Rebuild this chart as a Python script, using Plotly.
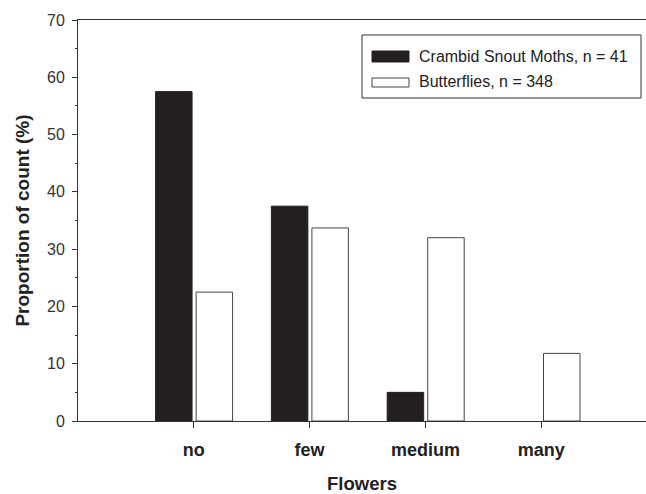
import plotly.graph_objects as go

categories = ["no", "few", "medium", "many"]
moths = [57.5, 37.5, 5.0, 0.0]
butterflies = [22.5, 33.7, 32.0, 11.8]
moth_label = "Crambid Snout Moths, n = 41"
butterfly_label = "Butterflies, n = 348"
y_ticks = [0, 10, 20, 30, 40, 50, 60, 70]

FONT = "Arial, Liberation Sans, Helvetica, sans-serif"
AX = "#333333"

fig = go.Figure()
fig.add_trace(go.Bar(x=categories, y=moths, name=moth_label,
                     marker=dict(color="#231f20",
                                 line=dict(color="#231f20", width=[1 if v > 0 else 0 for v in moths])),
                     width=0.315, offset=-0.33, showlegend=False))
fig.add_trace(go.Bar(x=categories, y=butterflies, name=butterfly_label,
                     marker=dict(color="white", line=dict(color="#444444", width=1)),
                     width=0.315, offset=0.02, showlegend=False))

# manual legend (paper coords = plot area)
def px_x(p):
    return (p - 78) / 568.0
def px_y(p):
    return (421 - p) / 401.0

shapes = [
    dict(type="rect", xref="paper", yref="paper", x0=px_x(362), x1=px_x(641),
         y0=px_y(98), y1=px_y(35), line=dict(color=AX, width=1), fillcolor="white"),
    dict(type="rect", xref="paper", yref="paper", x0=px_x(372), x1=px_x(409),
         y0=px_y(62), y1=px_y(51), line=dict(color="#231f20", width=1), fillcolor="#231f20"),
    dict(type="rect", xref="paper", yref="paper", x0=px_x(372), x1=px_x(409),
         y0=px_y(87), y1=px_y(78), line=dict(color="#444444", width=1), fillcolor="white"),
]
annotations = [
    dict(xref="paper", yref="paper", x=px_x(417), y=px_y(56.5), text=moth_label,
         showarrow=False, xanchor="left", yanchor="middle",
         font=dict(family=FONT, size=16, color="#222222")),
    dict(xref="paper", yref="paper", x=px_x(417), y=px_y(81.5), text=butterfly_label,
         showarrow=False, xanchor="left", yanchor="middle",
         font=dict(family=FONT, size=16, color="#222222")),
]

fig.update_layout(
    width=646, height=494,
    margin=dict(l=78, r=0, t=20, b=73),
    paper_bgcolor="white", plot_bgcolor="white",
    font=dict(family=FONT, color="#222222"),
    shapes=shapes, annotations=annotations,
    showlegend=False,
)
fig.update_xaxes(
    type="category", categoryorder="array", categoryarray=categories,
    range=[-1, 3.905],
    showline=True, linecolor=AX, linewidth=1, mirror=True,
    ticks="outside", ticklen=6, tickcolor=AX, tickwidth=1,
    ticklabelstandoff=6,
    showgrid=False, zeroline=False,
    tickfont=dict(family=FONT, size=18, color="#222222", weight="bold"),
    title=dict(text="<b>Flowers</b>", font=dict(family=FONT, size=18.5, color="#222222"), standoff=19),
)
fig.update_yaxes(
    range=[0, 70], tickvals=y_ticks,
    showline=True, linecolor=AX, linewidth=1, mirror=False,
    ticks="outside", ticklen=5, tickcolor=AX, tickwidth=1,
    ticklabelstandoff=4,
    minor=dict(dtick=5, ticks="outside", ticklen=2.5, tickcolor=AX, tickwidth=1),
    showgrid=False, zeroline=False,
    tickfont=dict(family=FONT, size=16, color="#333333"),
    title=dict(text="<b>Proportion of count (%)</b>", font=dict(family=FONT, size=19, color="#222222"), standoff=12),
)

fig.write_html("out.html", config={"displayModeBar": False},
               post_script="document.body.style.margin='0';document.body.style.overflow='hidden';")
